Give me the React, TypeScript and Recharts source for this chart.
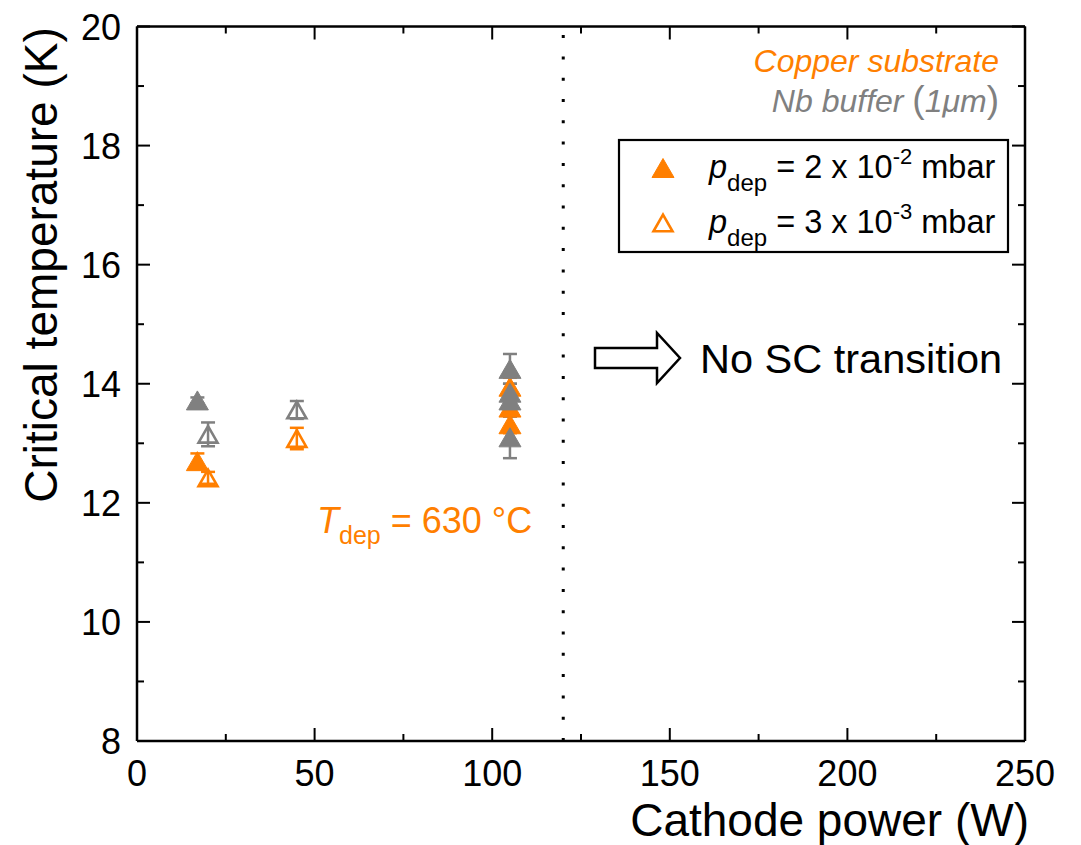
import React from 'react';
import { ScatterChart, Scatter, XAxis, YAxis, ErrorBar, ReferenceLine } from 'recharts';

const ORANGE = '#FF7F00';
const GRAY = '#808080';
const FONT = '"Liberation Sans", Arial, sans-serif';

// Filled triangles: p_dep = 2 x 10^-2 mbar
const filledCopper = [
  { x: 17, y: 12.7, err: 0.13 },
  { x: 105, y: 13.95, err: 0.15 },
  { x: 105, y: 13.6, err: 0.15 },
  { x: 105, y: 13.32, err: 0.15 },
];
const filledNb = [
  { x: 17, y: 13.72, err: 0.05 },
  { x: 105, y: 14.25, err: 0.25 },
  { x: 105, y: 13.85, err: 0.15 },
  { x: 105, y: 13.72, err: 0.1 },
  { x: 105, y: 13.1, err: 0.35 },
];
// Open triangles: p_dep = 3 x 10^-3 mbar
const openCopper = [
  { x: 20, y: 12.42, err: 0.1 },
  { x: 45, y: 13.08, err: 0.18 },
];
const openNb = [
  { x: 20, y: 13.15, err: 0.2 },
  { x: 45, y: 13.56, err: 0.15 },
];

const xTicks = [0, 25, 50, 75, 100, 125, 150, 175, 200, 225, 250];
const yTicks = [8, 9, 10, 11, 12, 13, 14, 15, 16, 17, 18, 19, 20];
const xMajorStep = 50;
const yMajorStep = 2;
const dividerX = 120;

const triPoints = (cx: number, cy: number) => {
  const w = 11, h = 9.5;
  return `${cx},${cy - h} ${cx + w},${cy + h} ${cx - w},${cy + h}`;
};
const openTriPoints = (cx: number, cy: number) => {
  const w = 9.5, h = 8.3;
  return `${cx},${cy - h} ${cx + w},${cy + h} ${cx - w},${cy + h}`;
};

const makeShape = (color: string, filled: boolean) => (props: any) => {
  const { cx, cy } = props;
  if (cx == null || cy == null) return <g />;
  return (
    <polygon
      points={filled ? triPoints(cx, cy) : openTriPoints(cx, cy)}
      fill={filled ? color : 'none'}
      stroke={color}
      strokeWidth={filled ? 1 : 2.6}
      strokeLinejoin="miter"
    />
  );
};

const BottomTick = (props: any) => {
  const { x, y, payload } = props;
  const v = payload.value;
  const major = v % xMajorStep === 0;
  return (
    <g>
      <line x1={x} y1={y} x2={x} y2={y - (major ? 13 : 7)} stroke="#000" strokeWidth={2} />
      {major && (
        <text x={x} y={y + 45} textAnchor="middle" fontSize={36} fontFamily={FONT} fill="#000">
          {v}
        </text>
      )}
    </g>
  );
};
const TopTick = (props: any) => {
  const { x, y, payload } = props;
  const major = payload.value % xMajorStep === 0;
  return <line x1={x} y1={y} x2={x} y2={y + (major ? 13 : 7)} stroke="#000" strokeWidth={2} />;
};
const LeftTick = (props: any) => {
  const { x, y, payload } = props;
  const v = payload.value;
  const major = v % yMajorStep === 0;
  return (
    <g>
      <line x1={x} y1={y} x2={x + (major ? 13 : 7)} y2={y} stroke="#000" strokeWidth={2} />
      {major && (
        <text x={x - 16} y={y + 13} textAnchor="end" fontSize={36} fontFamily={FONT} fill="#000">
          {v}
        </text>
      )}
    </g>
  );
};
const RightTick = (props: any) => {
  const { x, y, payload } = props;
  const major = payload.value % yMajorStep === 0;
  return <line x1={x} y1={y} x2={x - (major ? 13 : 7)} y2={y} stroke="#000" strokeWidth={2} />;
};

const axisLine = { stroke: '#000', strokeWidth: 2.5 };

export default function App() {
  return (
    <div style={{ position: 'absolute', left: 0, top: 0, width: 1081, height: 845, background: '#fff' }}>
      <ScatterChart
        width={1081}
        height={845}
        margin={{ top: 25.5, right: 55, bottom: 0, left: 0 }}
        style={{ position: 'absolute', left: 0, top: 0 }}
      >
        <XAxis
          xAxisId="b"
          type="number"
          dataKey="x"
          domain={[0, 250]}
          ticks={xTicks}
          interval={0}
          allowDataOverflow
          height={104}
          tickSize={0}
          tickMargin={0}
          tickLine={false}
          axisLine={axisLine}
          tick={BottomTick}
        />
        <XAxis
          xAxisId="t"
          orientation="top"
          type="number"
          dataKey="x"
          domain={[0, 250]}
          ticks={xTicks}
          interval={0}
          allowDataOverflow
          height={1}
          tickSize={0}
          tickMargin={0}
          tickLine={false}
          axisLine={axisLine}
          tick={TopTick}
        />
        <YAxis
          yAxisId="l"
          type="number"
          dataKey="y"
          domain={[8, 20]}
          ticks={yTicks}
          interval={0}
          allowDataOverflow
          width={137}
          tickSize={0}
          tickMargin={0}
          tickLine={false}
          axisLine={axisLine}
          tick={LeftTick}
        />
        <YAxis
          yAxisId="r"
          orientation="right"
          type="number"
          dataKey="y"
          domain={[8, 20]}
          ticks={yTicks}
          interval={0}
          allowDataOverflow
          width={1}
          tickSize={0}
          tickMargin={0}
          tickLine={false}
          axisLine={axisLine}
          tick={RightTick}
        />
        <ReferenceLine
          xAxisId="b"
          yAxisId="l"
          x={dividerX}
          stroke="#000"
          strokeWidth={3}
          strokeDasharray="3 18.3"
        />
        <Scatter xAxisId="b" yAxisId="l" data={openCopper} isAnimationActive={false} shape={makeShape(ORANGE, false)}>
          <ErrorBar dataKey="err" direction="y" width={7} stroke={ORANGE} strokeWidth={2.5} />
        </Scatter>
        <Scatter xAxisId="b" yAxisId="l" data={openNb} isAnimationActive={false} shape={makeShape(GRAY, false)}>
          <ErrorBar dataKey="err" direction="y" width={7} stroke={GRAY} strokeWidth={2.5} />
        </Scatter>
        <Scatter xAxisId="b" yAxisId="l" data={filledCopper} isAnimationActive={false} shape={makeShape(ORANGE, true)}>
          <ErrorBar dataKey="err" direction="y" width={7} stroke={ORANGE} strokeWidth={2.5} />
        </Scatter>
        <Scatter xAxisId="b" yAxisId="l" data={filledNb} isAnimationActive={false} shape={makeShape(GRAY, true)}>
          <ErrorBar dataKey="err" direction="y" width={7} stroke={GRAY} strokeWidth={2.5} />
        </Scatter>
      </ScatterChart>
      <svg
        width={1081}
        height={845}
        style={{ position: 'absolute', left: 0, top: 0, pointerEvents: 'none' }}
        fontFamily={FONT}
      >
        {/* axis titles */}
        <text x={1029} y={836} textAnchor="end" fontSize={46} fill="#000">
          Cathode power (W)
        </text>
        <text transform="translate(57,265) rotate(-90)" textAnchor="middle" fontSize={46} fill="#000">
          Critical temperature (K)
        </text>
        {/* sample labels */}
        <text x={999} y={72} textAnchor="end" fontSize={32} fontStyle="italic" fill={ORANGE}>
          Copper substrate
        </text>
        <text x={999} y={112} textAnchor="end" fontSize={32} fill={GRAY}>
          <tspan fontStyle="italic">Nb buffer </tspan>
          <tspan fontSize={37}>(</tspan>
          <tspan fontStyle="italic">1μm</tspan>
          <tspan fontSize={37}>)</tspan>
        </text>
        {/* legend box */}
        <rect x={619} y={140} width={389} height={112} fill="#fff" stroke="#000" strokeWidth={2.2} />
        <polygon points={triPoints(663, 168)} fill={ORANGE} stroke={ORANGE} strokeWidth={1} />
        <polygon points={openTriPoints(663, 223)} fill="none" stroke={ORANGE} strokeWidth={2.6} />
        <text x={709} y={178} fontSize={32.5} fill="#000">
          <tspan fontStyle="italic">p</tspan>
          <tspan fontSize={24} dy={13}>dep</tspan>
          <tspan dy={-13}> = 2 x 10</tspan>
          <tspan fontSize={22} dy={-14}>-2</tspan>
          <tspan dy={14}> mbar</tspan>
        </text>
        <text x={709} y={233} fontSize={32.5} fill="#000">
          <tspan fontStyle="italic">p</tspan>
          <tspan fontSize={24} dy={13}>dep</tspan>
          <tspan dy={-13}> = 3 x 10</tspan>
          <tspan fontSize={22} dy={-14}>-3</tspan>
          <tspan dy={14}> mbar</tspan>
        </text>
        {/* arrow + no SC transition */}
        <polygon
          points="595,348 657,348 657,333 680,358 657,383 657,368 595,368"
          fill="#fff"
          stroke="#000"
          strokeWidth={2.5}
        />
        <text x={700} y={373} fontSize={41.5} fill="#000">
          No SC transition
        </text>
        {/* T_dep */}
        <text x={317} y={533} fontSize={36} fill={ORANGE}>
          <tspan fontStyle="italic">T</tspan>
          <tspan fontSize={25} dy={11}>dep</tspan>
          <tspan dy={-11}> = 630 °C</tspan>
        </text>
      </svg>
    </div>
  );
}
